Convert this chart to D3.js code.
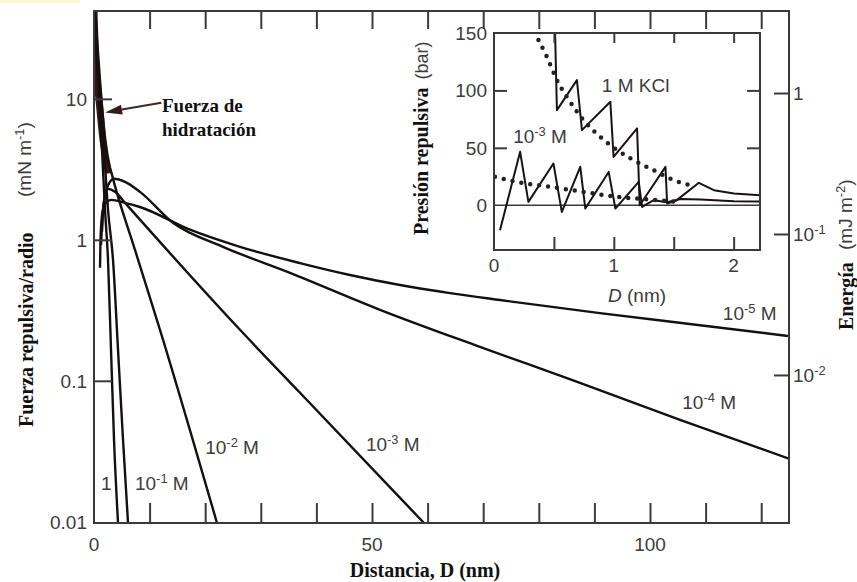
<!DOCTYPE html>
<html><head><meta charset="utf-8">
<script src="https://cdn.jsdelivr.net/npm/d3@7"></script>
<style>
html,body{margin:0;padding:0;background:#fff;}
svg{display:block;}
.sans{font-family:"Liberation Sans",Arial,Helvetica,sans-serif;fill:#3c3c3c;}
.serif{font-family:"Liberation Serif","Times New Roman",serif;font-weight:bold;fill:#111;}
</style></head><body>
<svg id="c" width="857" height="582"></svg>
<script>
// ---------- DATA (main chart: distance D in nm, force/radius in mN/m) ----------
const xTicks = [10,20,30,40,50,60,70,80,90,100,110,120];
const xTickLabels = [0,50,100];
const yTickLabels = [10,1,0.1,0.01];
const yLeftTicks = [10,1,0.1];
const yRightTicks = [1,0.1,0.01];
const yRightLabels = [["1",""],["10","-1"],["10","-2"]];

const hydration = [[0,42],[0.27,18.9],[0.90,9.84],[1.62,5.12],[2.52,3.13]];
const c1M   = [[0,42],[0.72,13.6],[1.44,4.35],[1.98,1.63],[2.52,0.72],[3.06,0.166],[3.60,0.0382],[4.32,0.0098]];
const c1e1  = [[0.09,42],[0.90,13.6],[1.80,4.35],[2.52,1.63],[3.42,0.72],[4.32,0.166],[5.22,0.0382],[6.12,0.0098]];
const c1e2  = [[0.18,42],[1.08,13.6],[2.16,4.35],[3.24,2.89],[7.37,0.849],[11.87,0.230],[22.12,0.0098]];
const c1e3  = [[1.44,1.14],[1.71,1.77],[2.52,2.30],[3.78,2.19],[5.58,1.83],[8.27,1.39],[26.26,0.230],[37.05,0.0822],[59.35,0.0098]];
const c1e4  = [[1.26,0.92],[1.62,1.63],[2.34,2.34],[3.60,2.71],[5.58,2.58],[8.27,2.19],[14.21,1.32],[23.20,0.892],[35.25,0.583],[51.44,0.319],[69.42,0.174],[87.41,0.0968],[105.40,0.0529],[125,0.028]];
const c1e5  = [[1.08,0.633],[1.17,1.0],[1.53,1.58],[2.16,1.83],[3.06,1.92],[5.58,1.83],[8.27,1.71],[17.27,1.18],[26.26,0.892],[37.05,0.684],[46.04,0.563],[55.04,0.478],[64.03,0.419],[73.02,0.374],[91.0,0.302],[109.0,0.248],[124.8,0.208]];

// curve labels: [text, superscript, D, F at baseline]
const curveLabels = [
  ["1","",1.26,0.0168],
  ["10","-1",7.37,0.0168],
  ["10","-2",20.0,0.0303],
  ["10","-3",48.9,0.0319],
  ["10","-4",105.8,0.0633],
  ["10","-5",113.1,0.271]
];

// ---------- DATA (inset: D in nm, pressure in bar) ----------
const ixTicks = [0.5,1,1.5,2];
const ixTickLabels = [0,1,2];
const iyTicks = [50,100];
const iyTickLabels = [150,100,50,0];
const in1M = [[0.51,150],[0.525,82.8],[0.692,109],[0.734,65.4],[0.971,90.1],[0.998,42.1],[1.194,66.9],[1.216,0],[1.431,33.4],[1.445,1.5],[1.52,4],[1.710,19.5],[1.835,13.1],[2.003,10.2],[2.226,8.7]];
const in1e3 = [[0.050,-21.8],[0.218,46.5],[0.287,2.9],[0.496,36.3],[0.566,-5.8],[0.720,33.4],[0.762,-2.9],[0.957,29.0],[1.013,-2.9],[1.208,20.3],[1.236,-1.5],[1.333,4.4],[1.445,2.6],[1.556,5.5],[1.724,5.0],[2.003,3.5],[2.226,3.2]];
const in1MDots = [[0.371,143.9],[0.441,129.3],[0.525,109],[0.608,94.4],[0.747,74.1],[0.887,59.5],[1.027,48.0],[1.166,39.2],[1.333,30.5],[1.500,21.8],[1.640,17.4]];
const in1e3Dots = [[0.008,24.7],[0.190,20.3],[0.469,16.0],[0.747,11.6],[1.027,7.3],[1.305,5.0],[1.529,2.9]];

// annotation arrow (D, F)
const arrowTip = [2.0, 8.0];
const arrowTail = [12.1, 9.4];

// ---------- DRAW ----------
const svg = d3.select("#c");
svg.append("rect").attr("width",857).attr("height",582).attr("fill","#fff");
svg.append("rect").attr("x",0).attr("y",0).attr("width",80).attr("height",3).attr("fill","#fdf6d2");

const x = d3.scaleLinear().domain([0,125]).range([94,789]);
const y = d3.scaleLog().domain([0.0098,42]).range([523,11]);
const yR = d3.scaleLog().domain([0.0098/11,42/11]).range([523,11]);

const defs = svg.append("defs");
defs.append("clipPath").attr("id","mainclip").append("rect")
  .attr("x",x(0)).attr("y",y(42)).attr("width",x(125)-x(0)).attr("height",y(0.0098)-y(42));

const line = d3.line().x(d=>x(d[0])).y(d=>y(d[1])).curve(d3.curveMonotoneX);
const g = svg.append("g").attr("clip-path","url(#mainclip)");

g.append("path").datum(hydration).attr("d",line)
  .attr("fill","none").attr("stroke","#3a1512").attr("stroke-width",7).attr("stroke-linecap","round");
[c1M,c1e1,c1e2,c1e3,c1e4,c1e5].forEach(s=>{
  g.append("path").datum(s).attr("d",line)
   .attr("fill","none").attr("stroke","#151010").attr("stroke-width",2.4);
});

// frame
const fr = svg.append("g").attr("stroke","#3a3a3a").attr("stroke-width",2).attr("fill","none");
fr.append("rect").attr("x",x(0)).attr("y",y(42)).attr("width",x(125)-x(0)).attr("height",y(0.0098)-y(42));

function styleAxis(sel){
  sel.select(".domain").remove();
  sel.selectAll(".tick line").attr("stroke","#3a3a3a").attr("stroke-width",2);
  sel.selectAll(".tick text").remove();
}
svg.append("g").attr("transform",`translate(0,${y(0.0098)})`)
  .call(d3.axisBottom(x).tickValues(xTicks).tickSize(-20)).call(styleAxis);
svg.append("g").attr("transform",`translate(0,${y(42)})`)
  .call(d3.axisTop(x).tickValues(xTicks).tickSize(-18)).call(styleAxis);
svg.append("g").attr("transform",`translate(${x(0)},0)`)
  .call(d3.axisLeft(y).tickValues(yLeftTicks).tickSize(-18)).call(styleAxis);
svg.append("g").attr("transform",`translate(${x(125)},0)`)
  .call(d3.axisRight(yR).tickValues(yRightTicks).tickSize(-15)).call(styleAxis);

// tick labels
const fs = 19;
svg.append("g").selectAll("text").data(yTickLabels).join("text").attr("class","sans")
  .attr("x",87).attr("y",d=>y(d)+7).attr("text-anchor","end").attr("font-size",fs).text(d=>d);
svg.append("g").selectAll("text").data(xTickLabels).join("text").attr("class","sans")
  .attr("x",d=>x(d)).attr("y",551).attr("text-anchor","middle").attr("font-size",fs).text(d=>d);

function supText(sel, base, sup, tail, size){
  sel.append("tspan").text(base);
  if(sup){
    sel.append("tspan").attr("dy",-7).attr("font-size",size*0.68).text(sup.replace("-","\u2011"));
    sel.append("tspan").attr("dy",7).text(tail);
  } else {
    sel.append("tspan").text(tail);
  }
}
yRightTicks.forEach((v,i)=>{
  const t = svg.append("text").attr("class","sans").attr("x",793).attr("y",yR(v)+7).attr("font-size",fs);
  supText(t, yRightLabels[i][0], yRightLabels[i][1], "", fs);
});

// curve labels
curveLabels.forEach(c=>{
  const t = svg.append("text").attr("class","sans").attr("x",x(c[2])).attr("y",y(c[3])).attr("font-size",fs);
  supText(t, c[0], c[1], c[0]==="1"?"":" M", fs);
});

// axis titles
const lt = svg.append("g").attr("transform",`translate(33,427) rotate(-90)`);
lt.append("text").attr("class","serif").attr("font-size",20).text("Fuerza repulsiva/radio");
const lu = svg.append("g").attr("transform",`translate(31,197) rotate(-90)`);
{ const t = lu.append("text").attr("class","sans").attr("font-size",19); supText(t,"(mN m","-1",")",19); }

const rt = svg.append("g").attr("transform",`translate(853,330) rotate(-90)`);
rt.append("text").attr("class","serif").attr("font-size",20).text("Energía");
const ru = svg.append("g").attr("transform",`translate(852,250) rotate(-90)`);
{ const t = ru.append("text").attr("class","sans").attr("font-size",19); supText(t,"(mJ m","-2",")",19); }

svg.append("text").attr("class","serif").attr("x",425).attr("y",577).attr("text-anchor","middle")
  .attr("font-size",20).text("Distancia, D (nm)");

// annotation
svg.append("text").attr("class","serif").attr("x",162).attr("y",112).attr("font-size",19).text("Fuerza de");
svg.append("text").attr("class","serif").attr("x",162).attr("y",136).attr("font-size",19).text("hidratación");
{
  const tx = x(arrowTip[0]), ty = y(arrowTip[1]);
  const sx = x(arrowTail[0]), sy = y(arrowTail[1]);
  const ang = Math.atan2(ty-sy, tx-sx);
  const L = 17, Wd = 5;
  const bx = tx - L*Math.cos(ang), by = ty - L*Math.sin(ang);
  svg.append("line").attr("x1",sx).attr("y1",sy).attr("x2",bx).attr("y2",by)
    .attr("stroke","#3a2a28").attr("stroke-width",2);
  svg.append("path").attr("d",`M${tx},${ty}L${bx - Wd*Math.sin(ang)},${by + Wd*Math.cos(ang)}L${bx + Wd*Math.sin(ang)},${by - Wd*Math.cos(ang)}Z`)
    .attr("fill","#3a1a18");
}

// ---------- INSET ----------
const ix = d3.scaleLinear().domain([0,2.22]).range([494,760]);
const iy = d3.scaleLinear().domain([-39,150]).range([250,33]);
defs.append("clipPath").attr("id","inclip").append("rect")
  .attr("x",ix(0)).attr("y",iy(150)).attr("width",ix(2.22)-ix(0)).attr("height",iy(-39)-iy(150));
svg.append("rect").attr("x",ix(0)).attr("y",iy(150)).attr("width",ix(2.22)-ix(0)).attr("height",iy(-39)-iy(150))
  .attr("fill","#fff");
const ig = svg.append("g").attr("clip-path","url(#inclip)");
ig.append("line").attr("x1",ix(0)).attr("x2",ix(2.22)).attr("y1",iy(0)).attr("y2",iy(0))
  .attr("stroke","#3a3a3a").attr("stroke-width",1.6);
const iline = d3.line().x(d=>ix(d[0])).y(d=>iy(d[1]));
const idots = d3.line().x(d=>ix(d[0])).y(d=>iy(d[1])).curve(d3.curveMonotoneX);
[in1M,in1e3].forEach(s=>{
  ig.append("path").datum(s).attr("d",iline).attr("fill","none")
    .attr("stroke","#1a1212").attr("stroke-width",2).attr("stroke-linejoin","round");
});
[in1MDots,in1e3Dots].forEach(s=>{
  ig.append("path").datum(s).attr("d",idots).attr("fill","none")
    .attr("stroke","#222").attr("stroke-width",4.5).attr("stroke-linecap","round").attr("stroke-dasharray","0 9");
});
svg.append("rect").attr("x",ix(0)).attr("y",iy(150)).attr("width",ix(2.22)-ix(0)).attr("height",iy(-39)-iy(150))
  .attr("fill","none").attr("stroke","#3a3a3a").attr("stroke-width",2);
svg.append("g").attr("transform",`translate(0,${iy(-39)})`)
  .call(d3.axisBottom(ix).tickValues(ixTicks).tickSize(-13)).call(styleAxis);
svg.append("g").attr("transform",`translate(0,${iy(150)})`)
  .call(d3.axisTop(ix).tickValues(ixTicks).tickSize(-10)).call(styleAxis);
svg.append("g").attr("transform",`translate(${ix(0)},0)`)
  .call(d3.axisLeft(iy).tickValues(iyTicks).tickSize(-13)).call(styleAxis);
svg.append("g").attr("transform",`translate(${ix(2.22)},0)`)
  .call(d3.axisRight(iy).tickValues(iyTicks).tickSize(-13)).call(styleAxis);

svg.append("g").selectAll("text").data(iyTickLabels).join("text").attr("class","sans")
  .attr("x",487).attr("y",d=>iy(d)+7).attr("text-anchor","end").attr("font-size",fs).text(d=>d);
svg.append("g").selectAll("text").data(ixTickLabels).join("text").attr("class","sans")
  .attr("x",d=>ix(d)).attr("y",272).attr("text-anchor","middle").attr("font-size",fs).text(d=>d);
{
  const t = svg.append("text").attr("class","sans").attr("x",637).attr("y",302).attr("text-anchor","middle").attr("font-size",fs);
  t.append("tspan").attr("font-style","italic").text("D");
  t.append("tspan").text(" (nm)");
}
svg.append("text").attr("class","sans").attr("x",ix(0.9)).attr("y",iy(99)).attr("font-size",fs).text("1 M KCl");
{
  const t = svg.append("text").attr("class","sans").attr("x",ix(0.16)).attr("y",iy(54)).attr("font-size",fs);
  supText(t,"10","-3"," M",fs);
}
const it = svg.append("g").attr("transform",`translate(428,235) rotate(-90)`);
{
  const t = it.append("text").attr("font-size",20);
  t.append("tspan").attr("class","serif").text("Presión repulsiva");
  t.append("tspan").attr("class","sans").attr("font-size",18).attr("dx",8).text("(bar)");
}
</script>
</body></html>
